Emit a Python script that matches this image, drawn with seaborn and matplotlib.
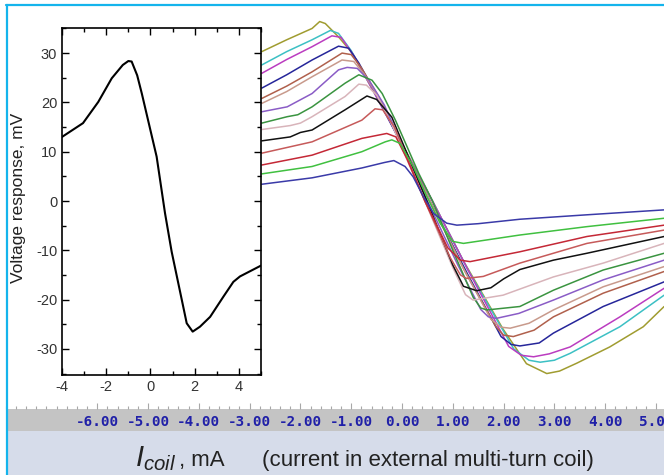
import matplotlib
matplotlib.use("Agg")
import matplotlib.pyplot as plt
from matplotlib.lines import Line2D
from matplotlib.patches import Rectangle
from matplotlib.ticker import MultipleLocator, FormatStrFormatter
import pandas as pd
import seaborn as sns

# inset: single response curve (mA, mV)
inset_i = [-4.0, -3.05, -2.36, -1.75, -1.25, -1.0, -0.85, -0.6, -0.39, 0.28, 0.66,
           0.96, 1.42, 1.64, 1.91, 2.24, 2.7, 3.3, 3.75, 4.05, 5.0]
inset_v = [13.0, 15.8, 20.1, 24.9, 27.6, 28.4, 28.3, 25.5, 21.8, 9.0, -2.5,
           -10.3, -20.1, -24.8, -26.5, -25.5, -23.5, -19.4, -16.4, -15.3, -13.1]

# main panel: 14 responses, listed top to bottom as seen at the left edge
olive_i = [-2.76, -2.27, -1.77, -1.62, -1.51, -1.25, -0.98, -0.72, -0.46, 0.07, 0.6,
           1.2, 1.99, 2.45, 2.85, 3.1, 3.44, 4.09, 4.75, 5.16]
olive_v = [30.3, 32.7, 35.0, 36.4, 36.0, 33.3, 30.0, 25.2, 20.5, 10.3, 0.0,
           -12.0, -26.0, -33.0, -35.0, -34.5, -32.9, -29.6, -25.5, -21.4]
cyan_i = [-2.76, -2.27, -1.77, -1.41, -1.25, -1.0, -0.6, 0.6, 1.3, 2.2, 2.5, 2.72,
          3.0, 3.31, 4.29, 5.16]
cyan_v = [27.6, 30.3, 32.7, 34.6, 34.0, 30.5, 23.0, 0.0, -14.0, -30.0, -32.3, -32.7,
          -32.3, -30.9, -25.5, -19.1]
magenta_i = [-2.76, -2.27, -1.77, -1.38, -1.2, -0.95, -0.55, 0.6, 1.3, 2.1, 2.35, 2.59,
             2.9, 3.31, 4.29, 5.16]
magenta_v = [25.9, 28.7, 31.3, 33.5, 33.2, 29.5, 22.0, 0.0, -14.0, -29.5, -31.3, -31.6,
             -31.0, -29.6, -23.5, -17.7]
navy_i = [-2.76, -2.27, -1.77, -1.25, -1.05, -0.85, -0.5, 0.55, 1.3, 1.95, 2.15, 2.32,
          2.7, 2.98, 3.96, 5.16]
navy_v = [22.9, 25.6, 28.6, 31.4, 31.0, 28.0, 21.5, 0.0, -15.0, -27.5, -29.1, -29.4,
          -28.8, -26.8, -21.4, -16.4]
brown_i = [-2.76, -2.27, -1.77, -1.18, -1.0, -0.8, -0.45, 0.55, 1.25, 1.85, 2.0, 2.19,
           2.6, 2.98, 3.96, 5.16]
brown_v = [20.8, 23.3, 26.2, 30.0, 29.7, 27.0, 21.0, 0.0, -14.5, -25.5, -27.2, -27.5,
           -26.2, -23.5, -18.7, -14.3]
tan_i = [-2.76, -2.27, -1.77, -1.18, -0.95, -0.75, -0.4, 0.55, 1.2, 1.75, 1.95, 2.13,
         2.5, 2.98, 3.96, 5.16]
tan_v = [19.8, 22.2, 25.2, 28.6, 28.3, 25.8, 20.0, 0.0, -13.5, -24.0, -25.6, -25.8,
         -24.8, -22.1, -17.4, -13.3]
purple_i = [-2.76, -2.26, -1.77, -1.25, -1.08, -0.88, -0.65, -0.35, 0.5, 1.1, 1.55, 1.7,
            1.86, 2.3, 2.98, 3.96, 5.16]
purple_v = [18.1, 19.1, 21.8, 26.6, 27.1, 26.9, 24.5, 19.5, 0.0, -13.0, -22.0, -23.5,
            -23.8, -22.8, -20.1, -16.0, -12.0]
green_i = [-2.76, -2.26, -2.05, -1.77, -1.12, -0.85, -0.59, -0.39, -0.13, 0.13, 0.33,
           0.6, 1.0, 1.4, 1.55, 1.67, 2.32, 2.98, 3.96, 5.16]
green_v = [15.8, 17.1, 17.5, 19.1, 23.9, 25.6, 24.5, 21.8, 16.4, 10.3, 5.6,
           0.0, -10.0, -19.5, -21.7, -22.1, -21.4, -18.1, -14.0, -10.6]
pink_i = [-2.76, -2.2, -2.0, -1.77, -1.12, -0.85, -0.7, -0.5, -0.2, 0.45, 1.0, 1.25,
          1.4, 1.99, 2.98, 3.96, 5.16]
pink_v = [14.5, 15.3, 15.8, 17.1, 21.2, 23.7, 23.5, 21.5, 15.5, 0.0, -13.5, -19.0,
          -20.1, -19.1, -15.4, -12.6, -8.6]
black_i = [-2.76, -2.2, -2.0, -1.77, -1.12, -0.69, -0.5, -0.2, 0.49, 1.0, 1.21, 1.47,
           1.75, 2.0, 2.32, 2.98, 3.64, 5.16]
black_v = [12.2, 13.0, 13.9, 14.4, 18.5, 21.3, 20.6, 17.0, 0.0, -13.0, -17.3, -18.2,
           -17.6, -15.8, -13.9, -12.0, -10.6, -7.2]
indianred_i = [-2.76, -1.77, -0.79, -0.53, -0.38, -0.15, 0.45, 0.95, 1.15, 1.27, 1.6,
               2.32, 3.64, 5.16]
indianred_v = [9.7, 12.0, 16.4, 18.7, 18.5, 15.0, 0.0, -11.5, -15.0, -15.7, -15.3,
               -12.6, -8.6, -5.9]
red_i = [-2.76, -1.77, -0.79, -0.30, -0.12, 0.1, 0.45, 0.9, 1.15, 1.34, 2.32, 3.64, 5.16]
red_v = [7.3, 9.3, 12.7, 13.7, 13.0, 8.5, 0.0, -9.5, -12.0, -12.3, -10.3, -7.2, -4.9]
lime_i = [-2.76, -1.77, -0.79, -0.33, -0.20, -0.04, 0.22, 0.49, 0.75, 1.0, 1.21, 2.32,
          3.64, 5.16]
lime_v = [5.5, 7.0, 10.0, 12.0, 12.4, 11.7, 7.0, 0.9, -4.5, -8.2, -8.6, -6.9, -5.2, -3.5]
blue_i = [-2.76, -1.77, -0.79, -0.35, -0.16, 0.06, 0.22, 0.42, 0.62, 0.88, 1.08, 1.5,
          2.32, 3.64, 5.16]
blue_v = [3.4, 4.7, 6.7, 7.8, 8.2, 7.0, 4.9, 0.9, -2.5, -4.5, -4.9, -4.6, -3.7, -2.8, -1.8]

curve_names = ["olive", "cyan", "magenta", "navy", "brown", "tan", "purple",
               "green", "pink", "black", "indianred", "red", "lime", "blue"]
curve_colors = ["#a09c30", "#3cc0c4", "#bb3cc0", "#26269a", "#b0604c", "#c89a8c",
                "#8a5cc6", "#3a9440", "#d8b4ba", "#111111", "#c65a5a", "#c42836",
                "#40c040", "#3a3aa8"]
curve_data = [(olive_i, olive_v), (cyan_i, cyan_v), (magenta_i, magenta_v),
              (navy_i, navy_v), (brown_i, brown_v), (tan_i, tan_v),
              (purple_i, purple_v), (green_i, green_v), (pink_i, pink_v),
              (black_i, black_v), (indianred_i, indianred_v), (red_i, red_v),
              (lime_i, lime_v), (blue_i, blue_v)]

df = pd.concat([pd.DataFrame({"I": xi, "V": vi, "curve": name})
                for name, (xi, vi) in zip(curve_names, curve_data)], ignore_index=True)
inset_df = pd.DataFrame({"I": inset_i, "V": inset_v})

sns.set_style("white")
plt.rcParams["font.family"] = ["Liberation Sans", "DejaVu Sans"]
plt.rcParams["axes.unicode_minus"] = False
plt.rcParams["mathtext.fontset"] = "custom"
plt.rcParams["mathtext.it"] = "Liberation Sans:italic"
plt.rcParams["mathtext.rm"] = "Liberation Sans"

W, H = 664, 475
fig = plt.figure(figsize=(W / 100, H / 100), dpi=100)
fig.patch.set_facecolor("white")

def fx(px):
    return px / W

def fy(py):
    return 1 - py / H

# bottom bands
fig.add_artist(Rectangle((fx(7), fy(431)), 1, fy(409) - fy(431), transform=fig.transFigure,
                         facecolor="#c4c4c4", edgecolor="none", zorder=-1))
fig.add_artist(Rectangle((fx(7), 0), 1, fy(431), transform=fig.transFigure,
                         facecolor="#d6dcea", edgecolor="none", zorder=-1))

# main panel
ax = fig.add_axes([0, fy(409), 1, fy(0) - fy(409)])
ax.set_zorder(1)
sns.lineplot(data=df, x="I", y="V", hue="curve", palette=dict(zip(curve_names, curve_colors)),
             hue_order=curve_names, sort=False, estimator=None, legend=False,
             linewidth=1.1, ax=ax)
ax.set_xlim(-402 / 50.8, (W - 402) / 50.8)
ax.set_ylim((201 - 409) / 4.93, 201 / 4.93)
for s in ax.spines.values():
    s.set_visible(False)
ax.set_xlabel("")
ax.set_ylabel("")
ax.set_yticks([])
ax.set_xticks([-6, -5, -4, -3, -2, -1, 0, 1, 2, 3, 4, 5])
ax.xaxis.set_major_formatter(FormatStrFormatter("%.2f"))
ax.xaxis.set_minor_locator(MultipleLocator(0.2))
ax.tick_params(axis="x", which="both", direction="in", bottom=True, color="#a8a8a8",
               width=0.8, pad=4)
ax.tick_params(axis="x", which="major", length=4.5)
ax.tick_params(axis="x", which="minor", length=2)
for lab in ax.get_xticklabels():
    lab.set_fontfamily("DejaVu Sans Mono")
    lab.set_fontweight("bold")
    lab.set_fontsize(10.3)
    lab.set_color("#2020a8")

# inset
ins = fig.add_axes([fx(62), fy(375), fx(261) - fx(62), fy(28) - fy(375)])
ins.set_zorder(2)
ins.set_facecolor("white")
sns.lineplot(data=inset_df, x="I", y="V", color="black", linewidth=1.5, sort=False,
             estimator=None, ax=ins)
ins.set_xlim(-4, 5)
ins.set_ylim(-35.3, 35.1)
ins.xaxis.set_major_locator(MultipleLocator(2))
ins.xaxis.set_minor_locator(MultipleLocator(1))
ins.yaxis.set_major_locator(MultipleLocator(10))
ins.yaxis.set_minor_locator(MultipleLocator(5))
for s in ins.spines.values():
    s.set_color("black")
    s.set_linewidth(1.2)
ins.tick_params(which="both", direction="in", top=True, right=True, bottom=True, left=True,
                color="black", width=1.0, labelsize=10.5, labelcolor="#333333")
ins.tick_params(which="major", length=5)
ins.tick_params(which="minor", length=3)
ins.set_xlabel("")
ins.set_ylabel("Voltage response, mV", fontsize=12.5, color="#222222")
ins.yaxis.set_label_coords((26 - 62) / 199, 0.51)

# outer frame lines
fig.add_artist(Line2D([fx(6), 1], [fy(4.5), fy(4.5)], transform=fig.transFigure,
                      color="#14b4ec", linewidth=1.6, zorder=5))
fig.add_artist(Line2D([fx(6.5), fx(6.5)], [0, fy(4.5)], transform=fig.transFigure,
                      color="#14b4ec", linewidth=1.6, zorder=5))

# axis caption
fig.text(fx(135), fy(466), r"$I_{coil}$", fontsize=21, va="baseline", ha="left", color="#222222")
fig.text(fx(179), fy(466), ", mA", fontsize=16, va="baseline", ha="left", color="#222222")
fig.text(fx(262), fy(466), "(current in external multi-turn coil)", fontsize=16,
         va="baseline", ha="left", color="#222222")

fig.savefig("out.png", dpi=100)
